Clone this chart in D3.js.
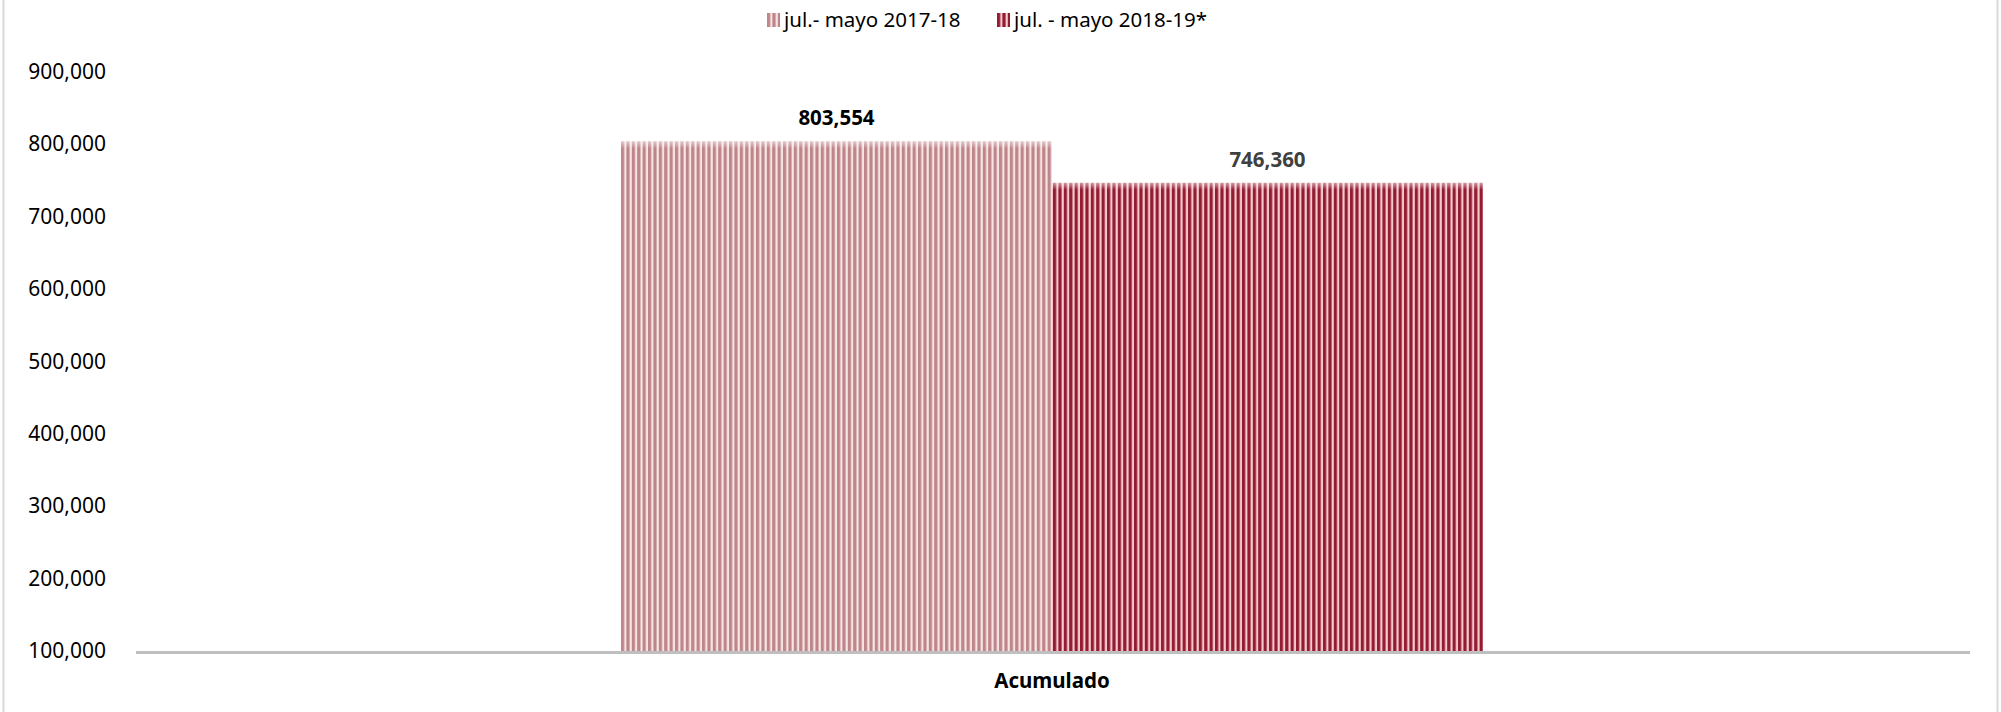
<!DOCTYPE html>
<html lang="es">
	<head>
		<meta charset="utf-8">
		<title>Acumulado jul. - mayo</title>

		<style type="text/css">

			body {
				margin: 0;
				background-color: white;
				font-family: "Noto Sans", "Open Sans", sans-serif;
			}

			svg {
				display: block;
				background-color: white;
			}

			.axis text {
				font-family: "Noto Sans", "Open Sans", sans-serif;
			}

			.y.axis text {
				font-size: 21px;
				fill: #000;
			}

			.x.axis text {
				font-size: 20.5px;
				font-weight: bold;
				fill: #000;
			}

			.x.axis path {
				stroke: #bfbfbf;
				stroke-width: 3px;
				shape-rendering: crispEdges;
			}

			.legend text {
				font-size: 20.5px;
				fill: #000;
			}

			.barlabels {
				font-size: 20.5px;
				font-weight: bold;
				text-anchor: middle;
			}

		</style>
	</head>
	<body>

	<script type="text/javascript" src="https://cdnjs.cloudflare.com/ajax/libs/d3/7.8.5/d3.min.js"></script>
	<script type="text/javascript">

		// data
		var categories = ["Acumulado"];
		var series = ["jul.- mayo 2017-18", "jul. - mayo 2018-19*"];
		var values = [803554, 746360];
		var yTicks = [100000, 200000, 300000, 400000, 500000, 600000, 700000, 800000, 900000];

		var fullwidth = 2001;
		var fullheight = 712;

		var margin = { top: 71.6, right: 32, bottom: 61, left: 135 };

		var width = fullwidth - margin.left - margin.right;
		var height = fullheight - margin.top - margin.bottom;

		// stripe colours: [dark stripe, light stripe, label colour]
		var stripes = [
			["#c08589", "#f4e6e7", "#000000"],
			["#921c30", "#f6c9d1", "#404040"]
		];

		var root = d3.select("body")
				.append("svg")
				.attr("width", fullwidth)
				.attr("height", fullheight);

		var defs = root.append("defs");

		stripes.forEach(function(c, i) {
			var p = defs.append("pattern")
				.attr("id", "stripe" + i)
				.attr("patternUnits", "userSpaceOnUse")
				.attr("width", 5.4)
				.attr("height", 10);
			p.append("rect")
				.attr("width", 5.4)
				.attr("height", 10)
				.attr("fill", c[1]);
			p.append("rect")
				.attr("width", 3.2)
				.attr("height", 10)
				.attr("fill", c[0]);
		});

		// soft glow along the top of the bars
		var glow = defs.append("linearGradient")
			.attr("id", "glow")
			.attr("x1", 0).attr("x2", 0)
			.attr("y1", 0).attr("y2", 1);
		glow.append("stop").attr("offset", "0%").attr("stop-color", "white").attr("stop-opacity", 0.55);
		glow.append("stop").attr("offset", "100%").attr("stop-color", "white").attr("stop-opacity", 0);

		// outer frame (only the sides show)
		root.append("rect")
			.attr("x", 3.5)
			.attr("y", -5)
			.attr("width", 1994)
			.attr("height", fullheight + 10)
			.attr("fill", "none")
			.attr("stroke", "#d9d9d9")
			.attr("stroke-width", 2);

		var svg = root.append("g")
				.attr("transform", "translate(" + margin.left + "," + margin.top + ")");

		var x0 = d3.scaleBand()
				.domain(categories)
				.range([0, width]);

		var x1 = d3.scaleBand()
				.domain(series)
				.range([0, x0.bandwidth()])
				.paddingInner(0)
				.paddingOuter(1.1276);

		var yScale = d3.scaleLinear()
				.domain([100000, 900000])
				.range([height, 0]);

		var yAxis = d3.axisLeft(yScale)
				.tickValues(yTicks)
				.tickFormat(d3.format(","))
				.tickSize(0)
				.tickPadding(29);

		svg.append("g")
			.attr("class", "y axis")
			.call(yAxis)
			.call(function(g) { g.select(".domain").remove(); });

		// bars
		var groups = svg.selectAll("g.cat")
			.data(categories)
			.enter()
			.append("g")
			.attr("class", "cat")
			.attr("transform", function(d) { return "translate(" + x0(d) + ",0)"; });

		var bars = groups.selectAll("g.bar")
			.data(series.map(function(s, i) { return { name: s, value: values[i], i: i }; }))
			.enter()
			.append("g")
			.attr("class", "bar");

		bars.append("rect")
			.attr("x", function(d) { return x1(d.name); })
			.attr("y", function(d) { return yScale(d.value); })
			.attr("width", x1.bandwidth())
			.attr("height", function(d) { return height - yScale(d.value); })
			.attr("fill", function(d) { return "url(#stripe" + d.i + ")"; });

		bars.append("rect")
			.attr("x", function(d) { return x1(d.name); })
			.attr("y", function(d) { return yScale(d.value); })
			.attr("width", x1.bandwidth())
			.attr("height", 7)
			.attr("fill", "url(#glow)");

		bars.append("text")
			.attr("class", "barlabels")
			.attr("x", function(d) { return x1(d.name) + x1.bandwidth() / 2; })
			.attr("y", function(d) { return yScale(d.value) - 16; })
			.attr("fill", function(d) { return stripes[d.i][2]; })
			.text(function(d) { return d3.format(",")(d.value); });

		// x axis drawn over the bar bottoms
		svg.append("g")
			.attr("class", "x axis")
			.attr("transform", "translate(0," + (height + 0.5) + ")")
			.call(d3.axisBottom(x0).tickSize(0).tickPadding(22))
			.call(function(g) { g.selectAll(".tick line").remove(); });

		// legend
		var legendX = [767, 997];
		var legend = root.append("g")
			.attr("class", "legend")
			.selectAll("g")
			.data(series)
			.enter()
			.append("g")
			.attr("transform", function(d, i) { return "translate(" + legendX[i] + ",13)"; });

		legend.append("rect")
			.attr("width", 13)
			.attr("height", 14)
			.attr("fill", function(d, i) { return "url(#stripe" + i + ")"; });

		legend.append("text")
			.attr("x", 17)
			.attr("y", 14)
			.text(function(d) { return d; });

	</script>
	</body>
</html>
